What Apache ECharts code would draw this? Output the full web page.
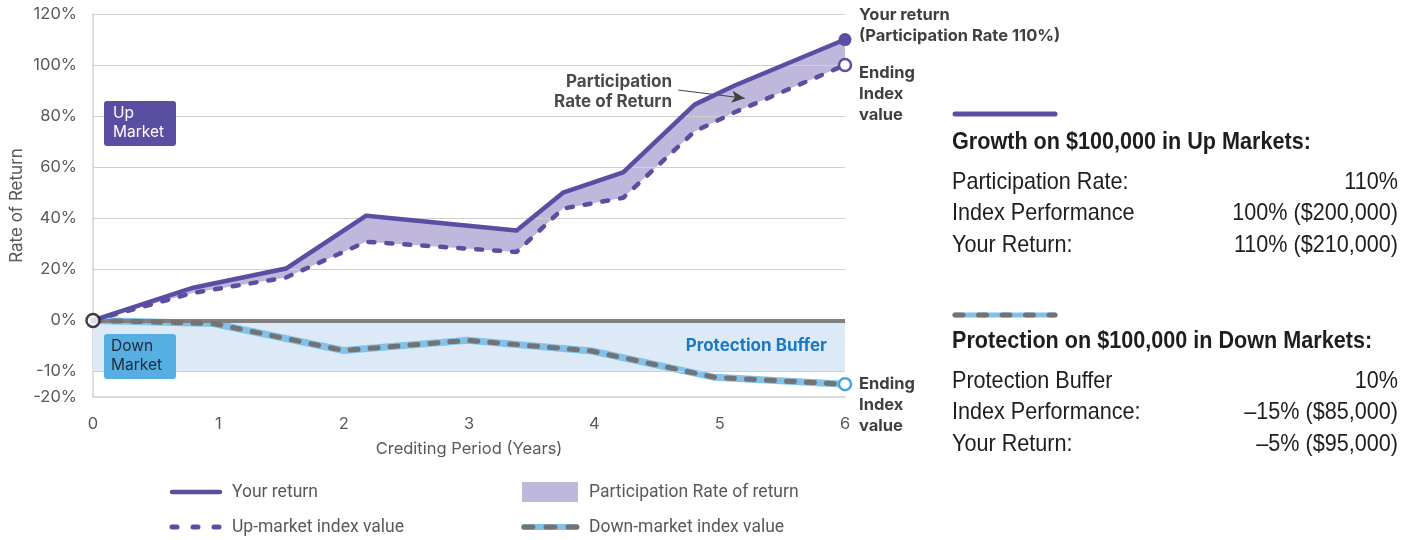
<!DOCTYPE html>
<html>
<head>
<meta charset="utf-8">
<script src="https://cdn.jsdelivr.net/npm/echarts@6/dist/echarts.min.js"></script>
<style>
html,body{margin:0;padding:0;background:#fff;}
#chart{width:1416px;height:540px;}
</style>
</head>
<body>
<div id="chart"></div>
<script>
// ---------- data ----------
const years = [0, 0.8, 1.54, 2.18, 3.38, 3.75, 4.23, 4.8, 5.12, 6];
const yourReturn = [0, 12.8, 20.3, 41, 35.2, 50, 58, 84.5, 92, 110];
const upIndex = [0, 10.8, 16.8, 30.8, 26.8, 43.8, 48, 74, 81.5, 100];
const downYears = [0, 0.96, 2.0, 2.99, 3.98, 4.96, 6];
const downIndex = [0, -0.6, -5.9, -3.9, -6.0, -12.3, -15];
const yTickLabels = [120, 100, 80, 60, 40, 20, 0, -10, -20];
const gridLineValues = [120, 100, 80, 60, 40, 20, -10];
const xTicks = [0, 1, 2, 3, 4, 5, 6];
const bufferLevel = -10;
const upTable = [
  ['Participation Rate:', '110%'],
  ['Index Performance', '100% ($200,000)'],
  ['Your Return:', '110% ($210,000)']
];
const downTable = [
  ['Protection Buffer', '10%'],
  ['Index Performance:', '\u201315% ($85,000)'],
  ['Your Return:', '\u20135% ($95,000)']
];

// The chart's vertical axis is piecewise: 0..-10% uses the same spacing as 0..20%,
// and -10%..-20% is half as tall. Map real percents to axis units.
function toAxis(v) {
  if (v >= 0) return v;
  if (v >= -10) return v * 2;
  return -20 + (v + 10);
}

const PURPLE = '#5a4ea2';
const FILL = '#bfb8dc';
const BLUE = '#82c2ea';
const GRAY_DASH = '#737373';
const AX_FONT = 'Inter, "Noto Sans", sans-serif';
const LEG_FONT = 'Roboto, "Noto Sans", sans-serif';
const TBL_FONT = '"Liberation Sans", Arial, sans-serif';

const lastIdx = years.length - 1;
const solidData = years.map((x, i) => ({
  value: [x, yourReturn[i]],
  symbol: i === lastIdx ? 'circle' : 'none',
  symbolSize: 13
}));
const dashedData = years.map((x, i) => ({
  value: [x, upIndex[i]],
  symbol: i === lastIdx ? 'circle' : 'none',
  symbolSize: 12
}));
const downLast = downYears.length - 1;
const downData = downYears.map((x, i) => ({
  value: [x, toAxis(downIndex[i])],
  symbol: i === downLast ? 'circle' : 'none',
  symbolSize: 12
}));

const chart = echarts.init(document.getElementById('chart'));

// right panel + legend graphics
const graphics = [];
function tText(x, y, text, opt) {
  graphics.push({
    type: 'text', x: x, y: y, scaleX: 0.9, silent: true,
    style: Object.assign({
      text: text, fill: '#1e1e1e', font: '24px ' + TBL_FONT,
      textVerticalAlign: 'middle', verticalAlign: 'middle'
    }, opt || {})
  });
}
// Up markets block
graphics.push({type: 'line', silent: true, shape: {x1: 955, y1: 114, x2: 1055, y2: 114},
  style: {stroke: PURPLE, lineWidth: 5, lineCap: 'round'}});
tText(952, 142, 'Growth on $100,000 in Up Markets:', {font: 'bold 24px ' + TBL_FONT});
upTable.forEach((r, i) => {
  tText(952, 182 + i * 31.5, r[0]);
  tText(1398, 182 + i * 31.5, r[1], {align: 'right', textAlign: 'right'});
});
// Down markets block
graphics.push({type: 'line', silent: true, shape: {x1: 955, y1: 315, x2: 1055, y2: 315},
  style: {stroke: BLUE, lineWidth: 5, lineCap: 'round'}});
graphics.push({type: 'line', silent: true, shape: {x1: 955, y1: 315, x2: 1055, y2: 315},
  style: {stroke: GRAY_DASH, lineWidth: 5, lineCap: 'round', lineDash: [8, 15.5]}});
tText(952, 341, 'Protection on $100,000 in Down Markets:', {font: 'bold 24px ' + TBL_FONT});
downTable.forEach((r, i) => {
  tText(952, 381 + i * 31.5, r[0]);
  tText(1398, 381 + i * 31.5, r[1], {align: 'right', textAlign: 'right'});
});

// bottom legend
function legText(x, y, t) {
  graphics.push({type: 'text', x: x, y: y, silent: true,
    style: {text: t, fill: '#595959', font: '17.5px ' + LEG_FONT, verticalAlign: 'middle', textVerticalAlign: 'middle'}});
}
graphics.push({type: 'line', silent: true, shape: {x1: 172, y1: 492, x2: 220, y2: 492},
  style: {stroke: PURPLE, lineWidth: 4.5, lineCap: 'round'}});
legText(232, 493, 'Your return');
graphics.push({type: 'rect', silent: true, shape: {x: 522, y: 482, width: 56, height: 20},
  style: {fill: FILL}});
legText(589, 493, 'Participation Rate of return');
graphics.push({type: 'line', silent: true, shape: {x1: 172, y1: 527, x2: 222, y2: 527},
  style: {stroke: PURPLE, lineWidth: 5, lineCap: 'round', lineDash: [5, 16]}});
legText(232, 528, 'Up-market index value');
graphics.push({type: 'line', silent: true, shape: {x1: 524, y1: 527, x2: 576, y2: 527},
  style: {stroke: BLUE, lineWidth: 6, lineCap: 'round'}});
graphics.push({type: 'line', silent: true, shape: {x1: 524, y1: 527, x2: 578, y2: 527},
  style: {stroke: GRAY_DASH, lineWidth: 5, lineCap: 'round', lineDash: [9, 13]}});
legText(589, 528, 'Down-market index value');

// Up / Down market boxes
graphics.push({type: 'rect', silent: true, z: 50, shape: {x: 104, y: 101, width: 72, height: 45, r: 3},
  style: {fill: '#5a4ea2'}});
graphics.push({type: 'text', silent: true, z: 51, x: 113, y: 104,
  style: {text: 'Up\nMarket', fill: '#ffffff', font: '15.5px ' + AX_FONT, lineHeight: 19}});
graphics.push({type: 'rect', silent: true, z: 50, shape: {x: 104, y: 334, width: 72, height: 45, r: 3},
  style: {fill: '#56aee2'}});
graphics.push({type: 'text', silent: true, z: 51, x: 111, y: 337,
  style: {text: 'Down\nMarket', fill: '#1f2a33', font: '15.5px ' + AX_FONT, lineHeight: 19}});
// Participation annotation text
graphics.push({type: 'text', silent: true, z: 51, x: 672, y: 72,
  style: {text: 'Participation\nRate of Return', fill: '#4a4a4a', font: 'bold 17px ' + AX_FONT,
    align: 'right', textAlign: 'right', lineHeight: 20}});

const endLabelStyle = {color: '#3f3f3f', fontSize: 16.5, fontWeight: 'bold', fontFamily: AX_FONT, lineHeight: 21};

const option = {
  animation: false,
  backgroundColor: '#ffffff',
  grid: {left: 93, right: 571, top: 14, bottom: 143, containLabel: false, outerBoundsMode: 'none'},
  xAxis: {
    type: 'value', min: xTicks[0], max: xTicks[xTicks.length - 1], interval: 1,
    name: 'Crediting Period (Years)', nameLocation: 'middle', nameGap: 44, nameMoveOverlap: false,
    nameTextStyle: {color: '#595959', fontSize: 16.5, fontFamily: AX_FONT},
    axisLine: {onZero: false, lineStyle: {color: '#d0d0d0', width: 1.5}},
    axisTick: {show: false},
    splitLine: {show: false},
    axisLabel: {color: '#595959', fontSize: 16.5, fontFamily: AX_FONT, margin: 19}
  },
  yAxis: {
    type: 'value', min: toAxis(-20), max: 120, interval: 10,
    name: 'Rate of Return', nameLocation: 'middle', nameGap: 68, nameMoveOverlap: false,
    nameTextStyle: {color: '#595959', fontSize: 17, fontFamily: AX_FONT},
    axisLine: {show: true, lineStyle: {color: '#d0d0d0', width: 1.5}},
    axisTick: {show: false},
    splitLine: {show: false},
    axisLabel: {
      color: '#595959', fontSize: 16.5, fontFamily: AX_FONT, margin: 16,
      formatter: function (u) {
        for (const t of yTickLabels) { if (Math.abs(toAxis(t) - u) < 1e-6) return t + '%'; }
        return '';
      }
    }
  },
  graphic: graphics,
  series: [
    { // gridlines + protection area holder
      type: 'line', data: [], silent: true, z: 1,
      markLine: {
        silent: true, symbol: 'none', animation: false,
        label: {show: false},
        lineStyle: {color: '#d0d0d0', width: 1.2, type: 'solid'},
        data: gridLineValues.map(v => ({yAxis: toAxis(v)}))
      },
      markArea: {
        silent: true,
        itemStyle: {color: '#dceaf7'},
        label: {show: true, position: 'insideRight', distance: 18, color: '#1b78c3',
          fontSize: 17, fontWeight: 'bold', fontFamily: AX_FONT},
        data: [[{yAxis: 0, name: 'Protection Buffer'}, {yAxis: toAxis(bufferLevel)}]]
      }
    },
    { // participation fill between your return and up index
      name: 'Participation Rate of return', type: 'custom', silent: true, z: 2,
      data: [[years[0], yourReturn[0]]],
      renderItem: function (params, api) {
        const top = years.map((x, i) => api.coord([x, yourReturn[i]]));
        const bottom = years.map((x, i) => api.coord([x, upIndex[i]])).reverse();
        return {type: 'polygon', shape: {points: top.concat(bottom)}, style: {fill: FILL}};
      },
      markLine: {
        silent: true, animation: false,
        symbol: ['none', 'arrow'], symbolSize: [9, 13],
        label: {show: false},
        lineStyle: {color: '#404040', width: 1, type: 'solid'},
        data: [[{coord: [4.67, 90.2]}, {coord: [5.2, 87]}]]
      }
    },
    { // zero line
      type: 'line', data: [], silent: true, z: 3,
      markLine: {
        silent: true, symbol: 'none', label: {show: false},
        lineStyle: {color: '#808080', width: 4, type: 'solid'},
        data: [{yAxis: 0}]
      }
    },
    { // down market blue underlay
      name: 'Down-market blue', type: 'line', data: downYears.map((x, i) => [x, toAxis(downIndex[i])]),
      symbol: 'none', silent: true, z: 4,
      lineStyle: {color: BLUE, width: 7, cap: 'round', join: 'round'}
    },
    { // down market gray dashes
      name: 'Down-market index value', type: 'line', data: downData, silent: true, z: 5,
      showSymbol: true,
      lineStyle: {color: GRAY_DASH, width: 5, type: [8, 12], cap: 'round'},
      itemStyle: {color: '#ffffff', borderColor: '#4aa4df', borderWidth: 2.5},
      endLabel: Object.assign({show: true, formatter: 'Ending\nIndex\nvalue', distance: 14, offset: [0, 21]}, endLabelStyle)
    },
    { // up market index dashed
      name: 'Up-market index value', type: 'line', data: dashedData, silent: true, z: 6,
      showSymbol: true,
      lineStyle: {color: PURPLE, width: 4.5, type: [6, 12], cap: 'round'},
      itemStyle: {color: '#ffffff', borderColor: PURPLE, borderWidth: 2.5},
      endLabel: Object.assign({show: true, formatter: 'Ending\nIndex\nvalue', distance: 14, offset: [0, 29]}, endLabelStyle)
    },
    { // your return
      name: 'Your return', type: 'line', data: solidData, silent: true, z: 7,
      showSymbol: true,
      lineStyle: {color: PURPLE, width: 4.5, join: 'round'},
      itemStyle: {color: PURPLE},
      endLabel: Object.assign({show: true, formatter: 'Your return\n(Participation Rate 110%)', distance: 14, offset: [0, -14]}, endLabelStyle)
    },
    { // origin marker
      type: 'scatter', data: [[years[0], yourReturn[0]]], silent: true, z: 10,
      symbolSize: 13,
      itemStyle: {color: '#ffffff', borderColor: '#111111', borderWidth: 2.5}
    }
  ]
};
chart.setOption(option);
</script>
</body>
</html>
